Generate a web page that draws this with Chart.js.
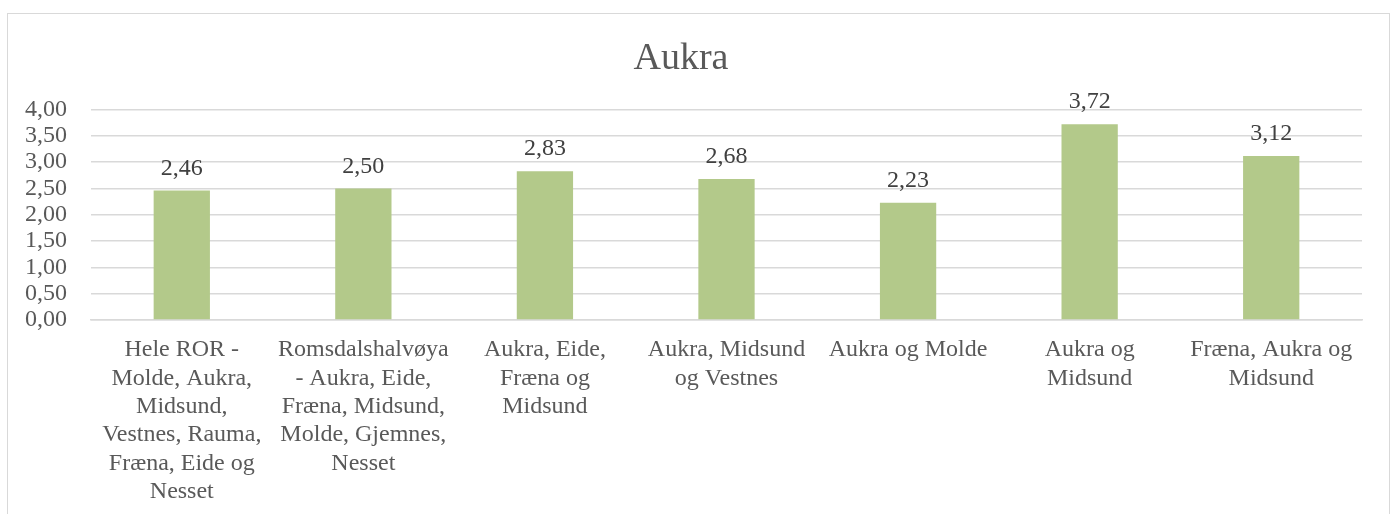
<!DOCTYPE html>
<html>
<head>
<meta charset="utf-8">
<script src="https://cdn.jsdelivr.net/npm/chart.js@4/dist/chart.umd.min.js"></script>
<style>
  html, body { margin: 0; padding: 0; background: #fff; overflow: hidden; }
  #wrap { position: relative; width: 1393px; height: 514px; }
  #frame { position: absolute; left: 7px; top: 13px; width: 1383px; height: 520px; border: 1.5px solid #d9d9d9; box-sizing: border-box; pointer-events: none; }
  canvas { position: absolute; left: 0; top: 0; }
</style>
</head>
<body>
<div id="wrap">
  <canvas id="c" width="1393" height="514"></canvas>
  <div id="frame"></div>
</div>
<script>
const chartTitle = "Aukra";
const categories = [
  ["Hele ROR -", "Molde, Aukra,", "Midsund,", "Vestnes, Rauma,", "Fræna, Eide og", "Nesset"],
  ["Romsdalshalvøya", "- Aukra, Eide,", "Fræna, Midsund,", "Molde, Gjemnes,", "Nesset"],
  ["Aukra, Eide,", "Fræna og", "Midsund"],
  ["Aukra, Midsund", "og Vestnes"],
  ["Aukra og Molde"],
  ["Aukra og", "Midsund"],
  ["Fræna, Aukra og", "Midsund"]
];
const values = [2.46, 2.50, 2.83, 2.68, 2.23, 3.72, 3.12];
const yMin = 0, yMax = 4, yStep = 0.5;

const fmt = v => v.toFixed(2).replace('.', ',');
const FONT = "'Liberation Serif', 'Times New Roman', serif";

const valueLabels = {
  id: 'valueLabels',
  afterDatasetsDraw(chart) {
    const ctx = chart.ctx;
    const meta = chart.getDatasetMeta(0);
    ctx.save();
    ctx.font = "24px " + FONT;
    ctx.fillStyle = '#404040';
    ctx.textAlign = 'center';
    ctx.textBaseline = 'alphabetic';
    meta.data.forEach((bar, i) => {
      ctx.fillText(fmt(values[i]), bar.x, bar.y - 16);
    });
    ctx.restore();
  }
};

new Chart(document.getElementById('c'), {
  type: 'bar',
  data: {
    labels: categories,
    datasets: [{
      data: values,
      backgroundColor: '#b3c98a',
      borderWidth: 0,
      barPercentage: 0.62,
      categoryPercentage: 0.5
    }]
  },
  options: {
    responsive: false,
    animation: false,
    layout: { padding: { left: 0, right: 31, top: 0, bottom: 0 } },
    plugins: {
      legend: { display: false },
      tooltip: { enabled: false },
      title: {
        display: true,
        text: chartTitle,
        color: '#595959',
        font: { family: FONT, size: 38, weight: 'normal', lineHeight: 1.2 },
        padding: { top: 36, bottom: 28 }
      }
    },
    scales: {
      y: {
        min: yMin, max: yMax,
        ticks: {
          stepSize: yStep,
          autoSkip: false,
          color: '#595959',
          padding: 24,
          font: { family: FONT, size: 24 },
          callback: v => fmt(v)
        },
        grid: { color: '#d9d9d9', lineWidth: 1.5, drawTicks: false },
        border: { display: false },
        afterFit(scale) { scale.width = 91; }
      },
      x: {
        ticks: {
          color: '#595959',
          padding: 16,
          maxRotation: 0,
          autoSkip: false,
          font: { family: FONT, size: 24, lineHeight: 1.18 }
        },
        grid: { display: false, drawTicks: false },
        border: { display: true, color: '#d9d9d9', width: 1.5 },
        afterFit(scale) { scale.height = 194; }
      }
    }
  },
  plugins: [valueLabels]
});
</script>
</body>
</html>
